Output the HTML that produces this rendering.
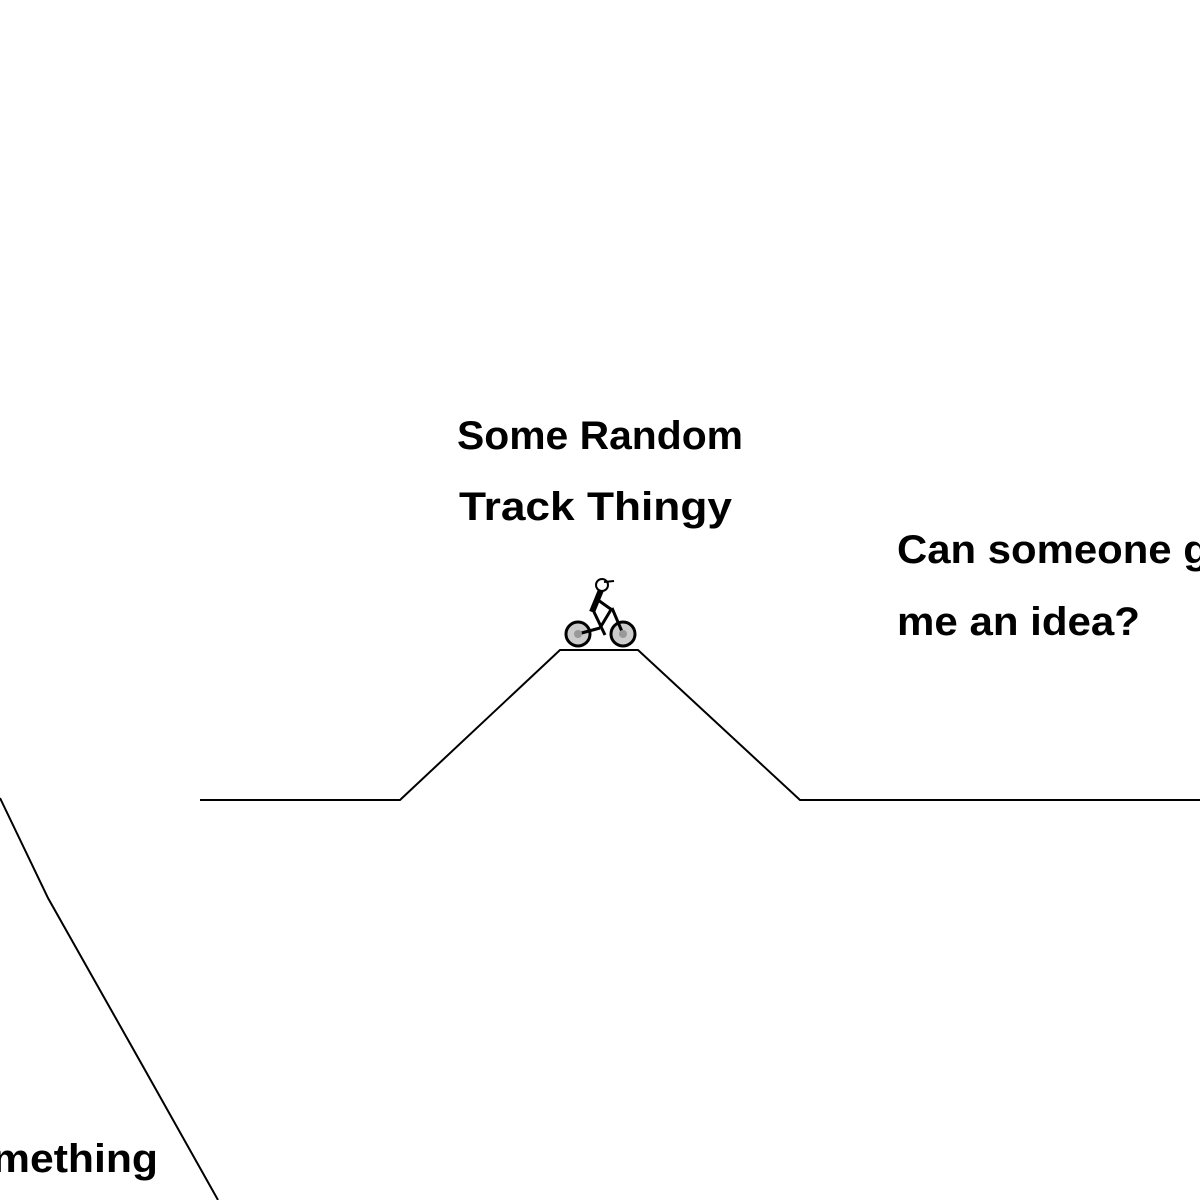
<!DOCTYPE html>
<html><head><style>html,body{margin:0;padding:0;background:#fff;}svg{display:block}</style></head>
<body>
<svg width="1200" height="1200" viewBox="0 0 1200 1200" xmlns="http://www.w3.org/2000/svg">
<g fill="none" stroke="#000" stroke-width="2">
<polyline points="200,800 400,800 560,650 638,650 800,800 1200,800"/>
<polyline points="0,798 48,898 145,1070 218,1200"/>
</g>
<g font-family="Liberation Sans, sans-serif" font-weight="bold" font-size="40" fill="#000">
<text x="457" y="449" textLength="286" lengthAdjust="spacingAndGlyphs">Some Random</text>
<text x="459" y="520" textLength="273" lengthAdjust="spacingAndGlyphs">Track Thingy</text>
<text x="897" y="563" textLength="370" lengthAdjust="spacingAndGlyphs">Can someone give</text>
<text x="897" y="635" textLength="243" lengthAdjust="spacingAndGlyphs">me an idea?</text>
<text x="-8" y="1172" textLength="166" lengthAdjust="spacingAndGlyphs">mething</text>
</g>
<g stroke="#000" stroke-width="3" fill="none">
<circle cx="578" cy="634" r="12" fill="#ccc"/>
<circle cx="623" cy="634" r="12" fill="#ccc"/>
<line x1="578" y1="634" x2="600" y2="628"/>
<line x1="600" y1="628" x2="612" y2="608"/>
<line x1="612" y1="608" x2="623" y2="634"/>
<line x1="598" y1="600" x2="612" y2="610"/>
<line x1="594" y1="612" x2="605" y2="635"/>
</g>
<line x1="592" y1="612" x2="601" y2="590" stroke="#000" stroke-width="6"/>
<circle cx="578" cy="634" r="4" fill="#999"/>
<circle cx="623" cy="634" r="4" fill="#999"/>
<circle cx="602" cy="585" r="6" fill="#fff" stroke="#000" stroke-width="2"/>
<line x1="604" y1="582" x2="614" y2="581" stroke="#000" stroke-width="2"/>
</svg>
</body></html>
